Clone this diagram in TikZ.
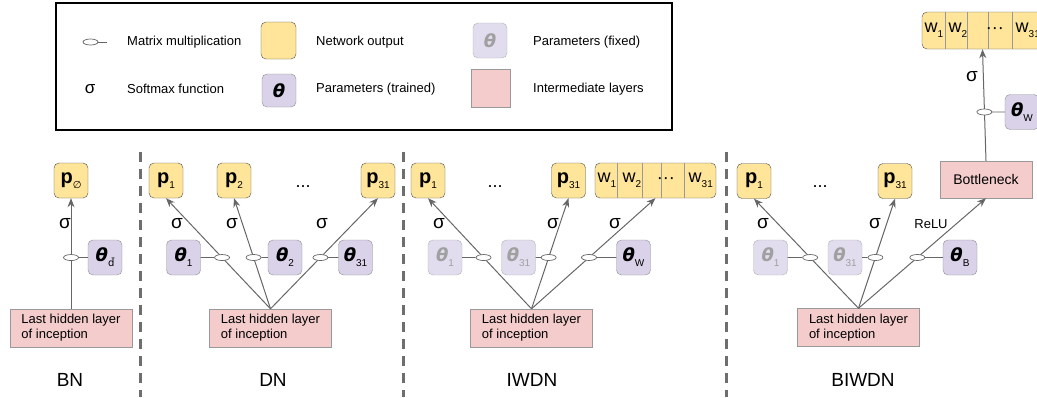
\documentclass[tikz,border=0pt]{standalone}
\usepackage{fontspec}
\setmainfont{Liberation Sans}
\newfontfamily\symfam{DejaVu Sans}
\usetikzlibrary{arrows.meta,calc,shapes.geometric}
\definecolor{outfill}{HTML}{FFE599}
\definecolor{outdraw}{HTML}{4D4D4D}
\definecolor{prmfill}{HTML}{D9D2E9}
\definecolor{prmdraw}{HTML}{8E8E8E}
\definecolor{fixfill}{HTML}{E2DDEE}
\definecolor{fixdraw}{HTML}{B0B0B0}
\definecolor{fixtext}{HTML}{A0A0A0}
\definecolor{layfill}{HTML}{F4CCCC}
\definecolor{laydraw}{HTML}{999999}
\definecolor{arrcol}{HTML}{666666}
\definecolor{sepcol}{HTML}{6E6E6E}
\newcommand\pout[1]{\textbf{p}\raisebox{-5pt}{\fontsize{10}{10}\selectfont#1}}
\newcommand\thsym{{\symfam\bfseries\itshape θ}}
\newcommand\prm[1]{\thsym\raisebox{-5pt}{\fontsize{10}{10}\selectfont#1}}
\newcommand\wout[1]{w\raisebox{-5pt}{\fontsize{10}{10}\selectfont#1}}
\begin{document}
\begin{tikzpicture}[x=1pt,y=-1pt,
  outbox/.style={draw=outdraw,fill=outfill,rounded corners=5pt,minimum width=34pt,minimum height=35pt,inner sep=0pt,font=\fontsize{20}{20}\selectfont},
  prmt/.style={draw=prmdraw,fill=prmfill,rounded corners=5pt,minimum width=34pt,minimum height=35pt,inner sep=0pt,font=\fontsize{18}{18}\selectfont},
  prmf/.style={prmt,draw=fixdraw,fill=fixfill,text=fixtext},
  layer/.style={draw=laydraw,fill=layfill,inner sep=0pt,minimum height=38pt},
  hid/.style={layer,minimum width=122pt,align=left,font=\fontsize{13}{15}\selectfont},
  wbox/.style={outbox,minimum width=121pt},
  cell/.style={draw=laydraw,line width=0.8pt},
  wlab/.style={font=\fontsize{18}{18}\selectfont,inner sep=0pt},
  dotlab/.style={anchor=base,font=\fontsize{18}{18}\selectfont,inner sep=0pt},
  sig/.style={font=\fontsize{19}{19}\selectfont,inner sep=0pt},
  mm/.style={ellipse,draw=arrcol,fill=white,minimum width=15pt,minimum height=6pt,inner sep=0pt,line width=0.7pt},
  arr/.style={draw=arrcol,line width=1pt,-{Stealth[length=9pt,width=7pt]}},
  lnk/.style={draw=arrcol,line width=0.8pt},
  sepline/.style={draw=sepcol,line width=3pt,dash pattern=on 10pt off 7pt},
  lab/.style={font=\fontsize{19}{19}\selectfont},
  leg/.style={font=\fontsize{13}{13}\selectfont,anchor=west,inner sep=0pt}]
\useasboundingbox (0,0) rectangle (1037,397);
\clip (0,0) rectangle (1037,397);

% legend
\draw[line width=1.6pt] (56,3) rectangle (672,130);
\node[mm] (lgmm) at (90.5,42) {};
\coordinate (lgmmend) at (107,42);
\draw[lnk] (lgmm) -- (lgmmend);
\node[leg] (lgmmtxt) at (127,42) {Matrix multiplication};
\node[outbox,minimum width=35pt,minimum height=37pt] (lgout) at (278.5,40.5) {};
\node[leg] (lgouttxt) at (316,42) {Network output};
\node[prmf] (lgfix) at (490,40.5) {\thsym};
\node[leg] (lgfixtxt) at (533,42) {Parameters (fixed)};
\node[sig,font=\fontsize{17}{17}\selectfont] (lgsig) at (90,89) {σ};
\node[leg] (lgsigtxt) at (127,89) {Softmax function};
\node[prmt,minimum height=33pt] (lgprm) at (279,90.5) {\thsym};
\node[leg] (lgprmtxt) at (316,89) {Parameters (trained)};
\node[layer,minimum width=39pt] (lglay) at (490.5,88) {};
\node[leg] (lglaytxt) at (533,89) {Intermediate layers};

% separators
\draw[sepline] (140,152) -- (140,397);
\draw[sepline] (403,152) -- (403,397);
\draw[sepline] (726,152) -- (726,397);

% BN
\node[outbox] (pBN) at (71,180.5) {\pout{{\symfam ∅}}};
\node[prmt] (thBN) at (105,257.5) {\prm{{\symfam d\char"0304}}};
\node[hid] (hidBN) at (71,328) {Last hidden layer\\of inception};
\node[lab] (labBN) at (70,380) {BN};
\draw[arr] (hidBN.north) -- (pBN.south);
\node[mm] (mmBN) at (intersection of hidBN.north--pBN.south and thBN.west--thBN.center) {};
\draw[lnk] (mmBN) -- (thBN);
\node[sig] (sgBN) at (65,224) {σ};

% DN
\node[outbox] (p1DN) at (166,180.5) {\pout{1}};
\node[outbox] (p2DN) at (234,180.5) {\pout{2}};
\node[dotlab] (dtDN) at (303,187) {...};
\node[outbox] (p31DN) at (378,180.5) {\pout{31}};
\node[prmt] (th1DN) at (183.5,257.5) {\prm{1}};
\node[prmt] (th2DN) at (285,257.5) {\prm{2}};
\node[prmt] (th31DN) at (355.5,257.5) {\prm{31}};
\node[hid] (hidDN) at (270.5,328) {Last hidden layer\\of inception};
\node[lab] (labDN) at (273,380) {DN};
\draw[arr] (hidDN.north) -- (p1DN.south);
\draw[arr] (hidDN.north) -- (p2DN.south);
\draw[arr] (hidDN.north) -- (p31DN.south);
\node[mm] (mm1DN) at (intersection of hidDN.north--p1DN.south and th1DN.west--th1DN.center) {};
\node[mm] (mm2DN) at (intersection of hidDN.north--p2DN.south and th2DN.west--th2DN.center) {};
\node[mm] (mm31DN) at (intersection of hidDN.north--p31DN.south and th31DN.west--th31DN.center) {};
\draw[lnk] (mm1DN) -- (th1DN);
\draw[lnk] (mm2DN) -- (th2DN);
\draw[lnk] (mm31DN) -- (th31DN);
\node[sig] (sg1DN) at (177,224) {σ};
\node[sig] (sg2DN) at (232,224) {σ};
\node[sig] (sg31DN) at (322,224) {σ};

% IWDN
\node[outbox] (p1IW) at (428,180.5) {\pout{1}};
\node[dotlab] (dtIW) at (495,187) {...};
\node[outbox] (p31IW) at (568.5,180.5) {\pout{31}};
\node[wbox] (wIW) at (655.5,180.5) {};
\draw[cell] ($(wIW.north west)+(23,0)$) -- ($(wIW.south west)+(23,0)$);
\draw[cell] ($(wIW.north west)+(48,0)$) -- ($(wIW.south west)+(48,0)$);
\draw[cell] ($(wIW.north west)+(67,0)$) -- ($(wIW.south west)+(67,0)$);
\draw[cell] ($(wIW.north west)+(90,0)$) -- ($(wIW.south west)+(90,0)$);
\node[wlab] (w1IW) at ($(wIW.west)+(12,0)$) {\wout{1}};
\node[wlab] (w2IW) at ($(wIW.west)+(37,0)$) {\wout{2}};
\node[wlab] (wdIW) at ($(wIW.west)+(71,0)$) {···};
\node[wlab] (w31IW) at ($(wIW.west)+(106,0)$) {\wout{31}};
\node[prmf] (th1IW) at (445,257.5) {\prm{1}};
\node[prmf] (th31IW) at (518.5,257.5) {\prm{31}};
\node[prmt] (thWIW) at (633.5,257.5) {\prm{W}};
\node[hid] (hidIW) at (531.5,328) {Last hidden layer\\of inception};
\node[lab] (labIW) at (532,380) {IWDN};
\draw[arr] (hidIW.north) -- (p1IW.south);
\draw[arr] (hidIW.north) -- (p31IW.south);
\draw[arr] (hidIW.north) -- (wIW.south);
\node[mm] (mm1IW) at (intersection of hidIW.north--p1IW.south and th1IW.west--th1IW.center) {};
\node[mm] (mm31IW) at (intersection of hidIW.north--p31IW.south and th31IW.west--th31IW.center) {};
\node[mm] (mmWIW) at (intersection of hidIW.north--wIW.south and thWIW.west--thWIW.center) {};
\draw[lnk] (mm1IW) -- (th1IW);
\draw[lnk] (mm31IW) -- (th31IW);
\draw[lnk] (mmWIW) -- (thWIW);
\node[sig] (sg1IW) at (439,224) {σ};
\node[sig] (sg31IW) at (553,224) {σ};
\node[sig] (sgWIW) at (615,224) {σ};

% BIWDN
\node[outbox] (p1BI) at (754,181) {\pout{1}};
\node[dotlab] (dtBI) at (820,187) {...};
\node[outbox] (p31BI) at (895,181) {\pout{31}};
\node[layer,minimum width=92pt,minimum height=37pt,font=\fontsize{14}{14}\selectfont] (bottBI) at (986,179.5) {Bottleneck};
\node[wbox,minimum height=37pt] (wBI) at (982.5,30.5) {};
\draw[cell] ($(wBI.north west)+(24,0)$) -- ($(wBI.south west)+(24,0)$);
\draw[cell] ($(wBI.north west)+(46,0)$) -- ($(wBI.south west)+(46,0)$);
\draw[cell] ($(wBI.north west)+(67,0)$) -- ($(wBI.south west)+(67,0)$);
\draw[cell] ($(wBI.north west)+(91,0)$) -- ($(wBI.south west)+(91,0)$);
\node[wlab] (w1BI) at ($(wBI.west)+(12,0)$) {\wout{1}};
\node[wlab] (w2BI) at ($(wBI.west)+(36,0)$) {\wout{2}};
\node[wlab] (wdBI) at ($(wBI.west)+(73,0)$) {···};
\node[wlab] (w31BI) at ($(wBI.west)+(106,0)$) {\wout{31}};
\node[prmt] (thWBI) at (1022,112) {\prm{W}};
\node[prmf] (th1BI) at (770.5,257.5) {\prm{1}};
\node[prmf] (th31BI) at (845,257.5) {\prm{31}};
\node[prmt] (thBBI) at (960,257.5) {\prm{B}};
\node[hid] (hidBI) at (858.5,327.5) {Last hidden layer\\of inception};
\node[lab] (labBI) at (863,380) {BIWDN};
\draw[arr] (hidBI.north) -- (p1BI.south);
\draw[arr] (hidBI.north) -- (p31BI.south);
\draw[arr] (hidBI.north) -- (bottBI.south);
\draw[arr] (bottBI.north) -- (wBI.south);
\node[mm] (mm1BI) at (intersection of hidBI.north--p1BI.south and th1BI.west--th1BI.center) {};
\node[mm] (mm31BI) at (intersection of hidBI.north--p31BI.south and th31BI.west--th31BI.center) {};
\node[mm] (mmBBI) at (intersection of hidBI.north--bottBI.south and thBBI.west--thBBI.center) {};
\node[mm] (mmWBI) at (intersection of bottBI.north--wBI.south and thWBI.west--thWBI.center) {};
\draw[lnk] (mm1BI) -- (th1BI);
\draw[lnk] (mm31BI) -- (th31BI);
\draw[lnk] (mmBBI) -- (thBBI);
\draw[lnk] (mmWBI) -- (thWBI);
\node[sig] (sg1BI) at (763,224) {σ};
\node[sig] (sg31BI) at (875,224) {σ};
\node[font=\fontsize{13}{13}\selectfont] (reluBI) at (931,224) {ReLU};
\node[sig] (sgWBI) at (972,77) {σ};
\end{tikzpicture}
\end{document}
